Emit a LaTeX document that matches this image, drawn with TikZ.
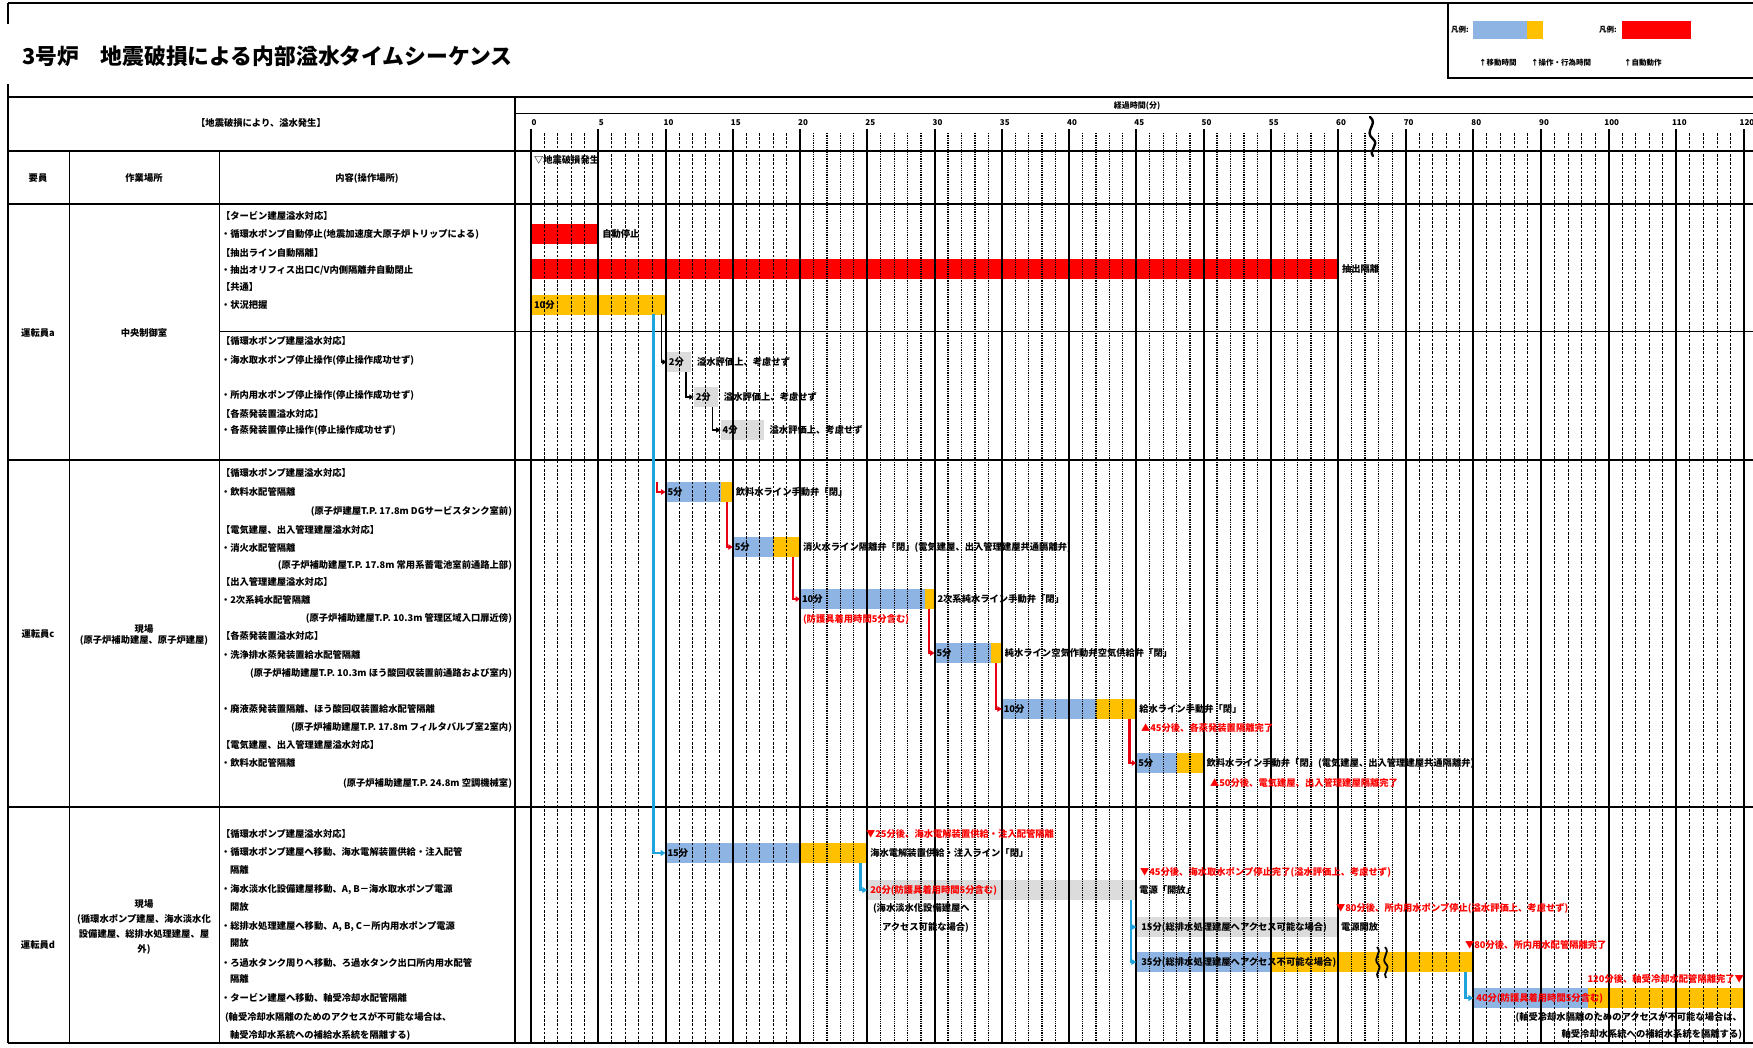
\documentclass[tikz,border=0pt]{standalone}
\usepackage{fontspec}
\setmainfont{Noto Sans CJK JP}
\usetikzlibrary{arrows.meta}

% time (minutes) -> horizontal position; the axis is compressed after 60 min
\pgfmathdeclarefunction{tx}{1}{\pgfmathparse{ifthenelse(#1<=60,531+13.45*#1,1338+6.767*(#1-60))}}

\definecolor{barblue}{HTML}{8DB4E2}
\definecolor{barorange}{HTML}{FFC000}
\definecolor{barred}{HTML}{FF0000}
\definecolor{bargray}{HTML}{DCDCDC}
\definecolor{linkcyan}{HTML}{1FA3DC}
\definecolor{linkred}{HTML}{E60012}
\definecolor{notered}{HTML}{FF0000}

\tikzset{
  every node/.style={font=\fontsize{9.3}{11}\selectfont\bfseries, inner sep=0pt, outer sep=0pt},
  txt/.style={anchor=west},
  txtr/.style={anchor=east},
  cell/.style={anchor=center},
  note/.style={anchor=west, text=notered},
  barbox/.style={draw=none, minimum height=20pt, inner sep=0pt, outer sep=0pt},
  tline/.style={line width=2pt},
  thinline/.style={line width=1pt},
  majorgrid/.style={line width=2pt},
  minorA/.style={line width=0.9pt, dash pattern=on 2.6pt off 1.6pt},
  minorB/.style={line width=1.3pt, dash pattern=on 1.3pt off 1pt},
  cyanlink/.style={draw=linkcyan, line width=2.6pt, -{Triangle[length=5pt,width=6pt]}},
  redlink/.style={draw=linkred, line width=2.2pt, -{Triangle[length=4.5pt,width=5.5pt]}},
  blacklink/.style={draw=black, line width=1.8pt, -{Triangle[length=4.5pt,width=5pt]}},
  small/.style={font=\fontsize{8}{9.5}\selectfont\bfseries},
  legend/.style={font=\fontsize{7.5}{9}\selectfont\bfseries, anchor=west},
  brk/.style={line width=2.4pt, line cap=round},
}

% a bar from time #2 to time #3 on line #4
\newcommand\tbar[5]{\node[barbox,fill=#5,minimum width={tx(#3)-tx(#2)},anchor=west] (#1) at ({tx(#2)},#4) {};}

\begin{document}
\begin{tikzpicture}[x=1pt,y=-1pt]
\useasboundingbox (0,0) rectangle (1753,1047);
\fill[white] (0,0) rectangle (1753,1047);

% ---------- title and legend ----------
\node[anchor=west,font=\fontsize{21.8}{25}\selectfont\bfseries] (title) at (22,56) {3号炉\hspace{1em}地震破損による内部溢水タイムシーケンス};

\draw[tline] (8,3) -- (1753,3);
\draw[tline] (8,3) -- (8,24);
\draw[tline] (8,84) -- (8,97);
\draw[tline] (1448,3) -- (1448,78) -- (1753,78);

\node[legend] (lg1) at (1451,30) {凡例:};
\fill[barblue] (1473,21) rectangle (1527,39);
\fill[barorange] (1527,21) rectangle (1543,39);
\node[legend] (lg2) at (1599,30) {凡例:};
\fill[barred] (1622,21) rectangle (1691,39);
\node[legend] (lg3) at (1479,63) {↑移動時間};
\node[legend] (lg4) at (1531,63) {↑操作・行為時間};
\node[legend] (lg5) at (1624,63) {↑自動動作};

% ---------- bars ----------
\tbar{a1}{0}{5}{234}{barred}
\tbar{a2}{0}{60}{269}{barred}
\tbar{a3}{0}{10}{305}{barorange}
\tbar{g1}{10.1}{11.9}{362}{bargray}
\tbar{g2}{12.1}{13.9}{397}{bargray}
\tbar{g3}{14.1}{17.3}{430}{bargray}

\tbar{c1b}{10}{14.1}{492}{barblue}   \tbar{c1o}{14.1}{15}{492}{barorange}
\tbar{c2b}{15}{18}{547}{barblue}     \tbar{c2o}{18}{20}{547}{barorange}
\tbar{c3b}{20}{29.3}{599}{barblue}   \tbar{c3o}{29.3}{30}{599}{barorange}
\tbar{c4b}{30}{34.2}{653}{barblue}   \tbar{c4o}{34.2}{35}{653}{barorange}
\tbar{c5b}{35}{42}{709}{barblue}     \tbar{c5o}{42}{45}{709}{barorange}
\tbar{c6b}{45}{48}{763}{barblue}     \tbar{c6o}{48}{50}{763}{barorange}

\tbar{d1b}{10}{20}{853}{barblue}     \tbar{d1o}{20}{25}{853}{barorange}
\tbar{d2}{25}{45}{890}{bargray}
\tbar{d3}{45}{60}{927}{bargray}
\tbar{d4b}{45}{55}{962}{barblue}     \tbar{d4o}{55}{80}{962}{barorange}
\tbar{d5b}{80}{97}{998}{barblue}     \tbar{d5o}{97}{120}{998}{barorange}

% ---------- time grid ----------
\foreach \b in {0,5,10,15}{\foreach \k in {1,...,4}{
  \draw[minorA] ({tx(\b+\k)},133) -- ({tx(\b+\k)},1043);}}
\foreach \b in {20,25,...,55}{\foreach \k in {1,...,4}{
  \draw[minorB] ({tx(\b+\k)},133) -- ({tx(\b+\k)},1043);}}
\foreach \k in {2,4,6,8}{
  \draw[minorB] ({tx(60+\k)},133) -- ({tx(60+\k)},1043);}
\foreach \b in {70,80,...,110}{\foreach \k in {2,4,6,8}{
  \draw[minorA] ({tx(\b+\k)},133) -- ({tx(\b+\k)},1043);}}
\foreach \t in {0,5,...,60,70,80,...,120}{
  \draw[majorgrid] ({tx(\t)},129) -- ({tx(\t)},1043);
  \node[small] (n\t) at ({tx(\t)+3},123) {\t};}
% axis break
\draw[brk] (1370,117) .. controls (1379,124) and (1363,131) .. (1373,139) .. controls (1380,145) and (1368,150) .. (1373,156);

% ---------- table frame ----------
\draw[tline] (8,97) -- (1753,97);
\draw[thinline] (515,113) -- (1753,113);
\draw[tline] (8,151) -- (1753,151);
\draw[tline] (8,204) -- (1753,204);
\draw[thinline] (219,331) -- (1753,331);
\draw[tline] (8,460) -- (1753,460);
\draw[tline] (8,807) -- (1753,807);
\draw[tline] (8,1043) -- (1753,1043);
\draw[tline] (8,97) -- (8,1043);
\draw[tline] (515,97) -- (515,1043);
\draw[thinline] (69,151) -- (69,1043);
\draw[thinline] (219,151) -- (219,1043);

% ---------- headings ----------
\node[cell] (h0) at (261,123) {【地震破損により、溢水発生】};
\node[cell] (h1) at (38,178) {要員};
\node[cell] (h2) at (144,178) {作業場所};
\node[cell] (h3) at (367,178) {内容(操作場所)};
\node[cell,small] (h4) at (1137,106) {経過時間(分)};
\node[txt] (h5) at (534,160) {▽地震破損発生};

% ---------- staff and places ----------
\node[cell] (sa) at (38,333) {運転員a};
\node[cell] (pa) at (144,333) {中央制御室};
\node[cell] (sc) at (38,634) {運転員c};
\node[cell,align=center] (pc) at (144,635) {現場\\(原子炉補助建屋、原子炉建屋)};
\node[cell] (sd) at (38,945) {運転員d};
\node[cell,align=center,font=\fontsize{9.3}{14.8}\selectfont\bfseries] (pd) at (144,927) {現場\\(循環水ポンプ建屋、海水淡水化\\設備建屋、総排水処理建屋、屋\\外)};

% ---------- tasks ----------
\foreach \y/\s [count=\i] in {
  216/{【タービン建屋溢水対応】},
  234/{・循環水ポンプ自動停止(地震加速度大原子炉トリップによる)},
  253/{【抽出ライン自動隔離】},
  270/{・抽出オリフィス出口C/V内側隔離弁自動閉止},
  287/{【共通】},
  305/{・状況把握},
  341/{【循環水ポンプ建屋溢水対応】},
  360/{・海水取水ポンプ停止操作(停止操作成功せず)},
  395/{・所内用水ポンプ停止操作(停止操作成功せず)},
  414/{【各蒸発装置溢水対応】},
  430/{・各蒸発装置停止操作(停止操作成功せず)}}
  {\node[txt] (ta\i) at (221,\y) {\s};}

\foreach \y/\s [count=\i] in {
  473/{【循環水ポンプ建屋溢水対応】},
  492/{・飲料水配管隔離},
  530/{【電気建屋、出入管理建屋溢水対応】},
  548/{・消火水配管隔離},
  582/{【出入管理建屋溢水対応】},
  600/{・2次系純水配管隔離},
  636/{【各蒸発装置溢水対応】},
  655/{・洗浄排水蒸発装置給水配管隔離},
  709/{・廃液蒸発装置隔離、ほう酸回収装置給水配管隔離},
  745/{【電気建屋、出入管理建屋溢水対応】},
  763/{・飲料水配管隔離}}
  {\node[txt] (tc\i) at (221,\y) {\s};}

\foreach \y/\s [count=\i] in {
  511/{(原子炉建屋T.P. 17.8m DGサービスタンク室前)},
  565/{(原子炉補助建屋T.P. 17.8m 常用系蓄電池室前通路上部)},
  618/{(原子炉補助建屋T.P. 10.3m 管理区域入口扉近傍)},
  673/{(原子炉補助建屋T.P. 10.3m ほう酸回収装置前通路および室内)},
  727/{(原子炉補助建屋T.P. 17.8m フィルタバルブ室2室内)},
  783/{(原子炉補助建屋T.P. 24.8m 空調機械室)}}
  {\node[txtr] (tp\i) at (512,\y) {\s};}

\foreach \x/\y/\s [count=\i] in {
  221/834/{【循環水ポンプ建屋溢水対応】},
  221/852/{・循環水ポンプ建屋へ移動、海水電解装置供給・注入配管},
  230/870/{隔離},
  221/889/{・海水淡水化設備建屋移動、A, B－海水取水ポンプ電源},
  230/907/{開放},
  221/926/{・総排水処理建屋へ移動、A, B, C－所内用水ポンプ電源},
  230/943/{開放},
  221/963/{・ろ過水タンク周りへ移動、ろ過水タンク出口所内用水配管},
  230/979/{隔離},
  221/998/{・タービン建屋へ移動、軸受冷却水配管隔離},
  225/1017/{(軸受冷却水隔離のためのアクセスが不可能な場合は、},
  230/1035/{軸受冷却水系統への補給水系統を隔離する)}}
  {\node[txt] (td\i) at (\x,\y) {\s};}

% ---------- bar labels ----------
\node[txt] (la1) at ([xshift=4pt]a1.east) {自動停止};
\node[txt] (la2) at ([xshift=4pt]a2.east) {抽出隔離};
\node[txt] (la3) at ([xshift=3pt]a3.west) {10分};
\node[txt] (lg1i) at ([xshift=2pt]g1.west) {2分};
\node[txt] (lg1t) at ([xshift=6pt]g1.east) {溢水評価上、考慮せず};
\node[txt] (lg2i) at ([xshift=2pt]g2.west) {2分};
\node[txt] (lg2t) at ([xshift=6pt]g2.east) {溢水評価上、考慮せず};
\node[txt] (lg3i) at ([xshift=2pt]g3.west) {4分};
\node[txt] (lg3t) at ([xshift=6pt]g3.east) {溢水評価上、考慮せず};

\node[txt] (lc1i) at ([xshift=2pt]c1b.west) {5分};
\node[txt] (lc1t) at ([xshift=3pt]c1o.east) {飲料水ライン手動弁「閉」};
\node[txt] (lc2i) at ([xshift=2pt]c2b.west) {5分};
\node[txt] (lc2t) at ([xshift=3pt]c2o.east) {消火水ライン隔離弁「閉」(電気建屋、出入管理建屋共通隔離弁)};
\node[txt] (lc3i) at ([xshift=2pt]c3b.west) {10分};
\node[txt] (lc3t) at ([xshift=3pt]c3o.east) {2次系純水ライン手動弁「閉」};
\node[note] (lc3n) at (803,619) {(防護具着用時間5分含む)};
\node[txt] (lc4i) at ([xshift=2pt]c4b.west) {5分};
\node[txt] (lc4t) at ([xshift=3pt]c4o.east) {純水ライン空気作動弁空気供給弁「閉」};
\node[txt] (lc5i) at ([xshift=2pt]c5b.west) {10分};
\node[txt] (lc5t) at ([xshift=3pt]c5o.east) {給水ライン手動弁「閉」};
\node[note] (lc5n) at (1141,728) {▲45分後、各蒸発装置隔離完了};
\node[txt] (lc6i) at ([xshift=2pt]c6b.west) {5分};
\node[txt] (lc6t) at ([xshift=3pt]c6o.east) {飲料水ライン手動弁「閉」(電気建屋、出入管理建屋共通隔離弁)};
\node[note] (lc6n) at (1210,783) {▲50分後、電気建屋、出入管理建屋隔離完了};

\node[txt] (ld1i) at ([xshift=2pt]d1b.west) {15分};
\node[txt] (ld1t) at ([xshift=3pt]d1o.east) {海水電解装置供給・注入ライン「閉」};
\node[note] (ld1n) at (866,834) {▼25分後、海水電解装置供給・注入配管隔離};
\node[note] (ld2i) at ([xshift=3pt]d2.west) {20分(防護具着用時間5分含む)};
\node[txt] (ld2a) at (873,908) {(海水淡水化設備建屋へ};
\node[txt] (ld2b) at (882,927) {アクセス可能な場合)};
\node[txt] (ld2t) at ([xshift=3pt]d2.east) {電源「開放」};
\node[note] (ld2n) at (1140,872) {▼45分後、海水取水ポンプ停止完了(溢水評価上、考慮せず)};
\node[txt] (ld3i) at ([xshift=5pt]d3.west) {15分(総排水処理建屋へアクセス可能な場合)};
\node[txt] (ld3t) at ([xshift=3pt]d3.east) {電源開放};
\node[note] (ld3n) at (1336,908) {▼80分後、所内用水ポンプ停止(溢水評価上、考慮せず)};
\node[txt] (ld4i) at ([xshift=5pt]d4b.west) {35分(総排水処理建屋へアクセス不可能な場合)};
\node[note] (ld4n) at (1465,945) {▼80分後、所内用水配管隔離完了};
\node[note] (ld5i) at ([xshift=3pt]d5b.west) {40分(防護具着用時間5分含む)};
\node[note,anchor=east] (ld5n) at (1744,979) {120分後、軸受冷却水配管隔離完了▼};
\node[txtr] (ld5a) at (1742,1017) {(軸受冷却水隔離のためのアクセスが不可能な場合は、};
\node[txtr] (ld5b) at (1742,1034) {軸受冷却水系統への補給水系統を隔離する)};

% break mark on the long bar
\draw[line width=1.8pt] (1377,947) .. controls (1383,953) and (1372,958) .. (1378,964) .. controls (1383,969) and (1374,973) .. (1378,978);
\draw[line width=1.8pt] (1385,947) .. controls (1391,953) and (1380,958) .. (1386,964) .. controls (1391,969) and (1382,973) .. (1386,978);

% ---------- connectors ----------
\coordinate (k0) at ({tx(9.7)},314);
\coordinate (k1) at ({tx(11.5)},372);
\coordinate (k2) at ({tx(13.5)},407);
\draw[blacklink] (k0) |- (g1.west);
\draw[blacklink] (k1) |- (g2.west);
\draw[blacklink] (k2) |- (g3.west);

\coordinate (q0) at ({tx(9.1)},314);
\draw[cyanlink] (q0) |- (d1b.west);
\coordinate (q1) at ({tx(24.5)},863);
\draw[cyanlink] (q1) |- (d2.west);
\coordinate (q2) at ({tx(44.6)},900);
\draw[cyanlink] (q2) |- (d3.west);
\draw[cyanlink] (q2) |- (d4b.west);
\coordinate (q3) at ({tx(78.8)},972);
\draw[cyanlink] (q3) |- (d5b.west);

\coordinate (r0) at ({tx(9.35)},482);
\draw[redlink] (r0) |- (c1b.west);
\coordinate (r1) at ({tx(14.6)},502);
\draw[redlink] (r1) |- (c2b.west);
\coordinate (r2) at ({tx(19.5)},557);
\draw[redlink] (r2) |- (c3b.west);
\coordinate (r3) at ({tx(29.6)},609);
\draw[redlink] (r3) |- (c4b.west);
\coordinate (r4) at ({tx(34.6)},663);
\draw[redlink] (r4) |- (c5b.west);
\coordinate (r5) at ({tx(44.5)},719);
\draw[redlink] (r5) |- (c6b.west);
\end{tikzpicture}
\end{document}
